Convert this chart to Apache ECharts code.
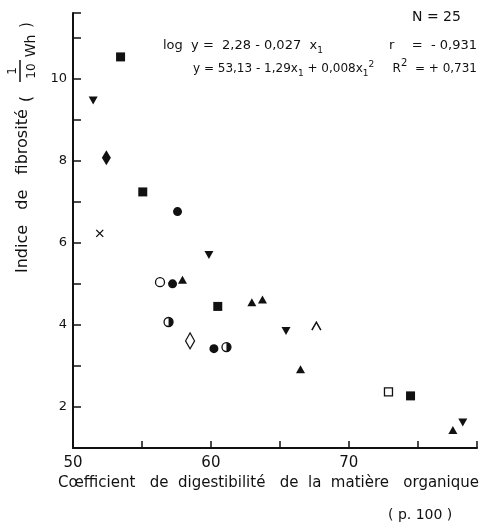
<!DOCTYPE html>
<html>
<head>
<meta charset="utf-8">
<script src="https://cdn.jsdelivr.net/npm/echarts@6/dist/echarts.min.js"></script>
<style>
  html, body { margin: 0; padding: 0; background: #fff; }
  #chart { width: 480px; height: 525px; }
</style>
</head>
<body>
<div id="chart"></div>
<script>
// valeurs : [digestibilité MO, indice de fibrosité]
var carresPleins = [[53.45, 10.53], [55.06, 7.24], [60.5, 4.45], [74.48, 2.27]];
var trianglesBas = [[51.46, 9.47], [59.86, 5.70], [65.45, 3.85], [78.27, 1.62]];
var trianglesHaut = [[57.94, 5.10], [62.97, 4.55], [63.74, 4.62], [66.5, 2.92], [77.55, 1.44]];
var ronds = [[57.58, 6.76], [57.22, 5.0], [60.22, 3.42]];
var losangePlein = [[52.42, 8.07]];
var croix = [[51.94, 6.23]];
var rondVide = [[56.31, 5.04]];
var demiRonds = [[56.93, 4.07], [61.13, 3.46]];
var losangeVide = [[58.49, 3.61]];
var chevron = [[67.65, 3.97]];
var carreVide = [[72.88, 2.37]];

var xTickLabels = [50, 60, 70];
var yTickLabels = [2, 4, 6, 8, 10];

var noir = '#111';
var police = 'DejaVu Sans';

var chart = echarts.init(document.getElementById('chart'));

function serie(data, symbol, size, style, extra) {
  var s = {
    type: 'scatter',
    data: data,
    symbol: symbol,
    symbolSize: size,
    itemStyle: style,
    emphasis: { disabled: true },
    z: 3
  };
  for (var k in extra) s[k] = extra[k];
  return s;
}
var plein = { color: noir, opacity: 1 };
var vide = { color: '#fff', borderColor: noir, borderWidth: 1.3, opacity: 1 };
var trait = { color: 'transparent', borderColor: noir, borderWidth: 1.4, opacity: 1 };

var option = {
  animation: false,
  grid: { left: 73, right: 0, top: 13, bottom: 77 },
  xAxis: {
    type: 'value',
    min: 50, max: 79.3, interval: 5,
    axisLine: { lineStyle: { color: noir, width: 2 } },
    axisTick: { inside: true, length: 7, lineStyle: { color: noir, width: 1.5 } },
    axisLabel: {
      margin: 8, color: noir, fontSize: 15, fontFamily: police,
      formatter: function (v) { return xTickLabels.indexOf(v) >= 0 ? String(v) : ''; }
    },
    splitLine: { show: false }
  },
  yAxis: {
    type: 'value',
    min: 1, max: 11.6, interval: 1,
    axisLine: { lineStyle: { color: noir, width: 2 } },
    axisTick: { inside: true, length: 8, lineStyle: { color: noir, width: 1.5 } },
    axisLabel: {
      margin: 6, color: noir, fontSize: 13, fontFamily: police,
      formatter: function (v) { return yTickLabels.indexOf(v) >= 0 ? String(v) : ''; }
    },
    splitLine: { show: false }
  },
  series: [
    serie(carresPleins, 'rect', 9, plein),
    serie(trianglesBas, 'triangle', [9, 8], plein, { symbolRotate: 180 }),
    serie(trianglesHaut, 'triangle', [9, 8], plein),
    serie(ronds, 'circle', 9, plein),
    serie(losangePlein, 'diamond', [9, 15], plein),
    serie(croix, 'path://M0,0 L10,10 M10,0 L0,10', 7, trait),
    serie(rondVide, 'circle', 9, vide),
    serie(demiRonds, 'circle', 9, vide),
    serie(demiRonds, 'path://M0,0 A10,10 0 0,1 0,20 Z', [4.5, 9], plein, { symbolOffset: [2.25, 0], z: 4 }),
    serie(losangeVide, 'diamond', [9, 16], vide),
    serie(chevron, 'path://M0,10 L5,0 L10,10', [9, 8], trait),
    serie(carreVide, 'rect', 8, vide)
  ],
  graphic: [
    {
      type: 'text', left: 412, top: 10,
      style: { text: 'N = 25', font: '14px ' + police, fill: noir }
    },
    {
      type: 'text', x: 163, y: 46,
      style: {
        text: 'log  y =  2,28 - 0,027  x{s|1}',
        font: '13px ' + police, fill: noir, lineHeight: 18,
        verticalAlign: 'middle', textVerticalAlign: 'middle',
        rich: { s: { fontSize: 9, lineHeight: 10, verticalAlign: 'bottom', fontFamily: police } }
      }
    },
    {
      type: 'text', x: 389, y: 46,
      style: { text: 'r', font: '13px ' + police, fill: noir, verticalAlign: 'middle', textVerticalAlign: 'middle' }
    },
    {
      type: 'text', x: 477, y: 46,
      style: {
        text: '=  - 0,931', font: '13px ' + police, fill: noir,
        align: 'right', textAlign: 'right', verticalAlign: 'middle', textVerticalAlign: 'middle'
      }
    },
    {
      type: 'text', x: 193, y: 69,
      style: {
        text: 'y = 53,13 - 1,29x{s|1} + 0,008x{s|1}{p|2}',
        font: '12px ' + police, fill: noir, lineHeight: 18,
        verticalAlign: 'middle', textVerticalAlign: 'middle',
        rich: {
          s: { fontSize: 9, lineHeight: 10, verticalAlign: 'bottom', fontFamily: police },
          p: { fontSize: 9, lineHeight: 10, verticalAlign: 'top', fontFamily: police }
        }
      }
    },
    {
      type: 'text', x: 477, y: 69,
      style: {
        text: 'R{p|2}  = + 0,731',
        font: '12px ' + police, fill: noir, lineHeight: 22,
        align: 'right', textAlign: 'right', verticalAlign: 'middle', textVerticalAlign: 'middle',
        rich: { p: { fontSize: 10, lineHeight: 10, verticalAlign: 'top', fontFamily: police } }
      }
    },
    {
      type: 'text', x: 58, y: 483,
      style: {
        text: 'Cœfficient   de  digestibilité   de  la  matière   organique',
        font: '15px ' + police, fill: noir, verticalAlign: 'middle', textVerticalAlign: 'middle'
      }
    },
    {
      type: 'text', x: 388, y: 515,
      style: {
        text: '( p. 100 )', font: '14px ' + police, fill: noir,
        verticalAlign: 'middle', textVerticalAlign: 'middle'
      }
    },
    {
      // titre de l'axe y, tourné
      type: 'group', x: 28, y: 273, rotation: Math.PI / 2,
      children: [
        {
          type: 'text', x: 0, y: -5,
          style: {
            text: 'Indice   de   fibrosité', font: '16px ' + police, fill: noir,
            verticalAlign: 'middle', textVerticalAlign: 'middle'
          }
        },
        {
          type: 'text', x: 174, y: -1,
          style: { text: '(', font: '15px ' + police, fill: noir, align: 'center', textAlign: 'center', verticalAlign: 'middle', textVerticalAlign: 'middle' }
        },
        {
          type: 'text', x: 202, y: -15,
          style: { text: '1', font: '12px ' + police, fill: noir, align: 'center', textAlign: 'center', verticalAlign: 'middle', textVerticalAlign: 'middle' }
        },
        {
          type: 'line', shape: { x1: 191, y1: -8, x2: 213, y2: -8 },
          style: { stroke: noir, lineWidth: 1.5 }
        },
        {
          type: 'text', x: 202, y: 4,
          style: { text: '10', font: '12px ' + police, fill: noir, align: 'center', textAlign: 'center', verticalAlign: 'middle', textVerticalAlign: 'middle' }
        },
        {
          type: 'text', x: 227, y: 3,
          style: { text: 'Wh', font: '14px ' + police, fill: noir, align: 'center', textAlign: 'center', verticalAlign: 'middle', textVerticalAlign: 'middle' }
        },
        {
          type: 'text', x: 248, y: -1,
          style: { text: ')', font: '15px ' + police, fill: noir, align: 'center', textAlign: 'center', verticalAlign: 'middle', textVerticalAlign: 'middle' }
        }
      ]
    }
  ]
};

chart.setOption(option);
</script>
</body>
</html>
